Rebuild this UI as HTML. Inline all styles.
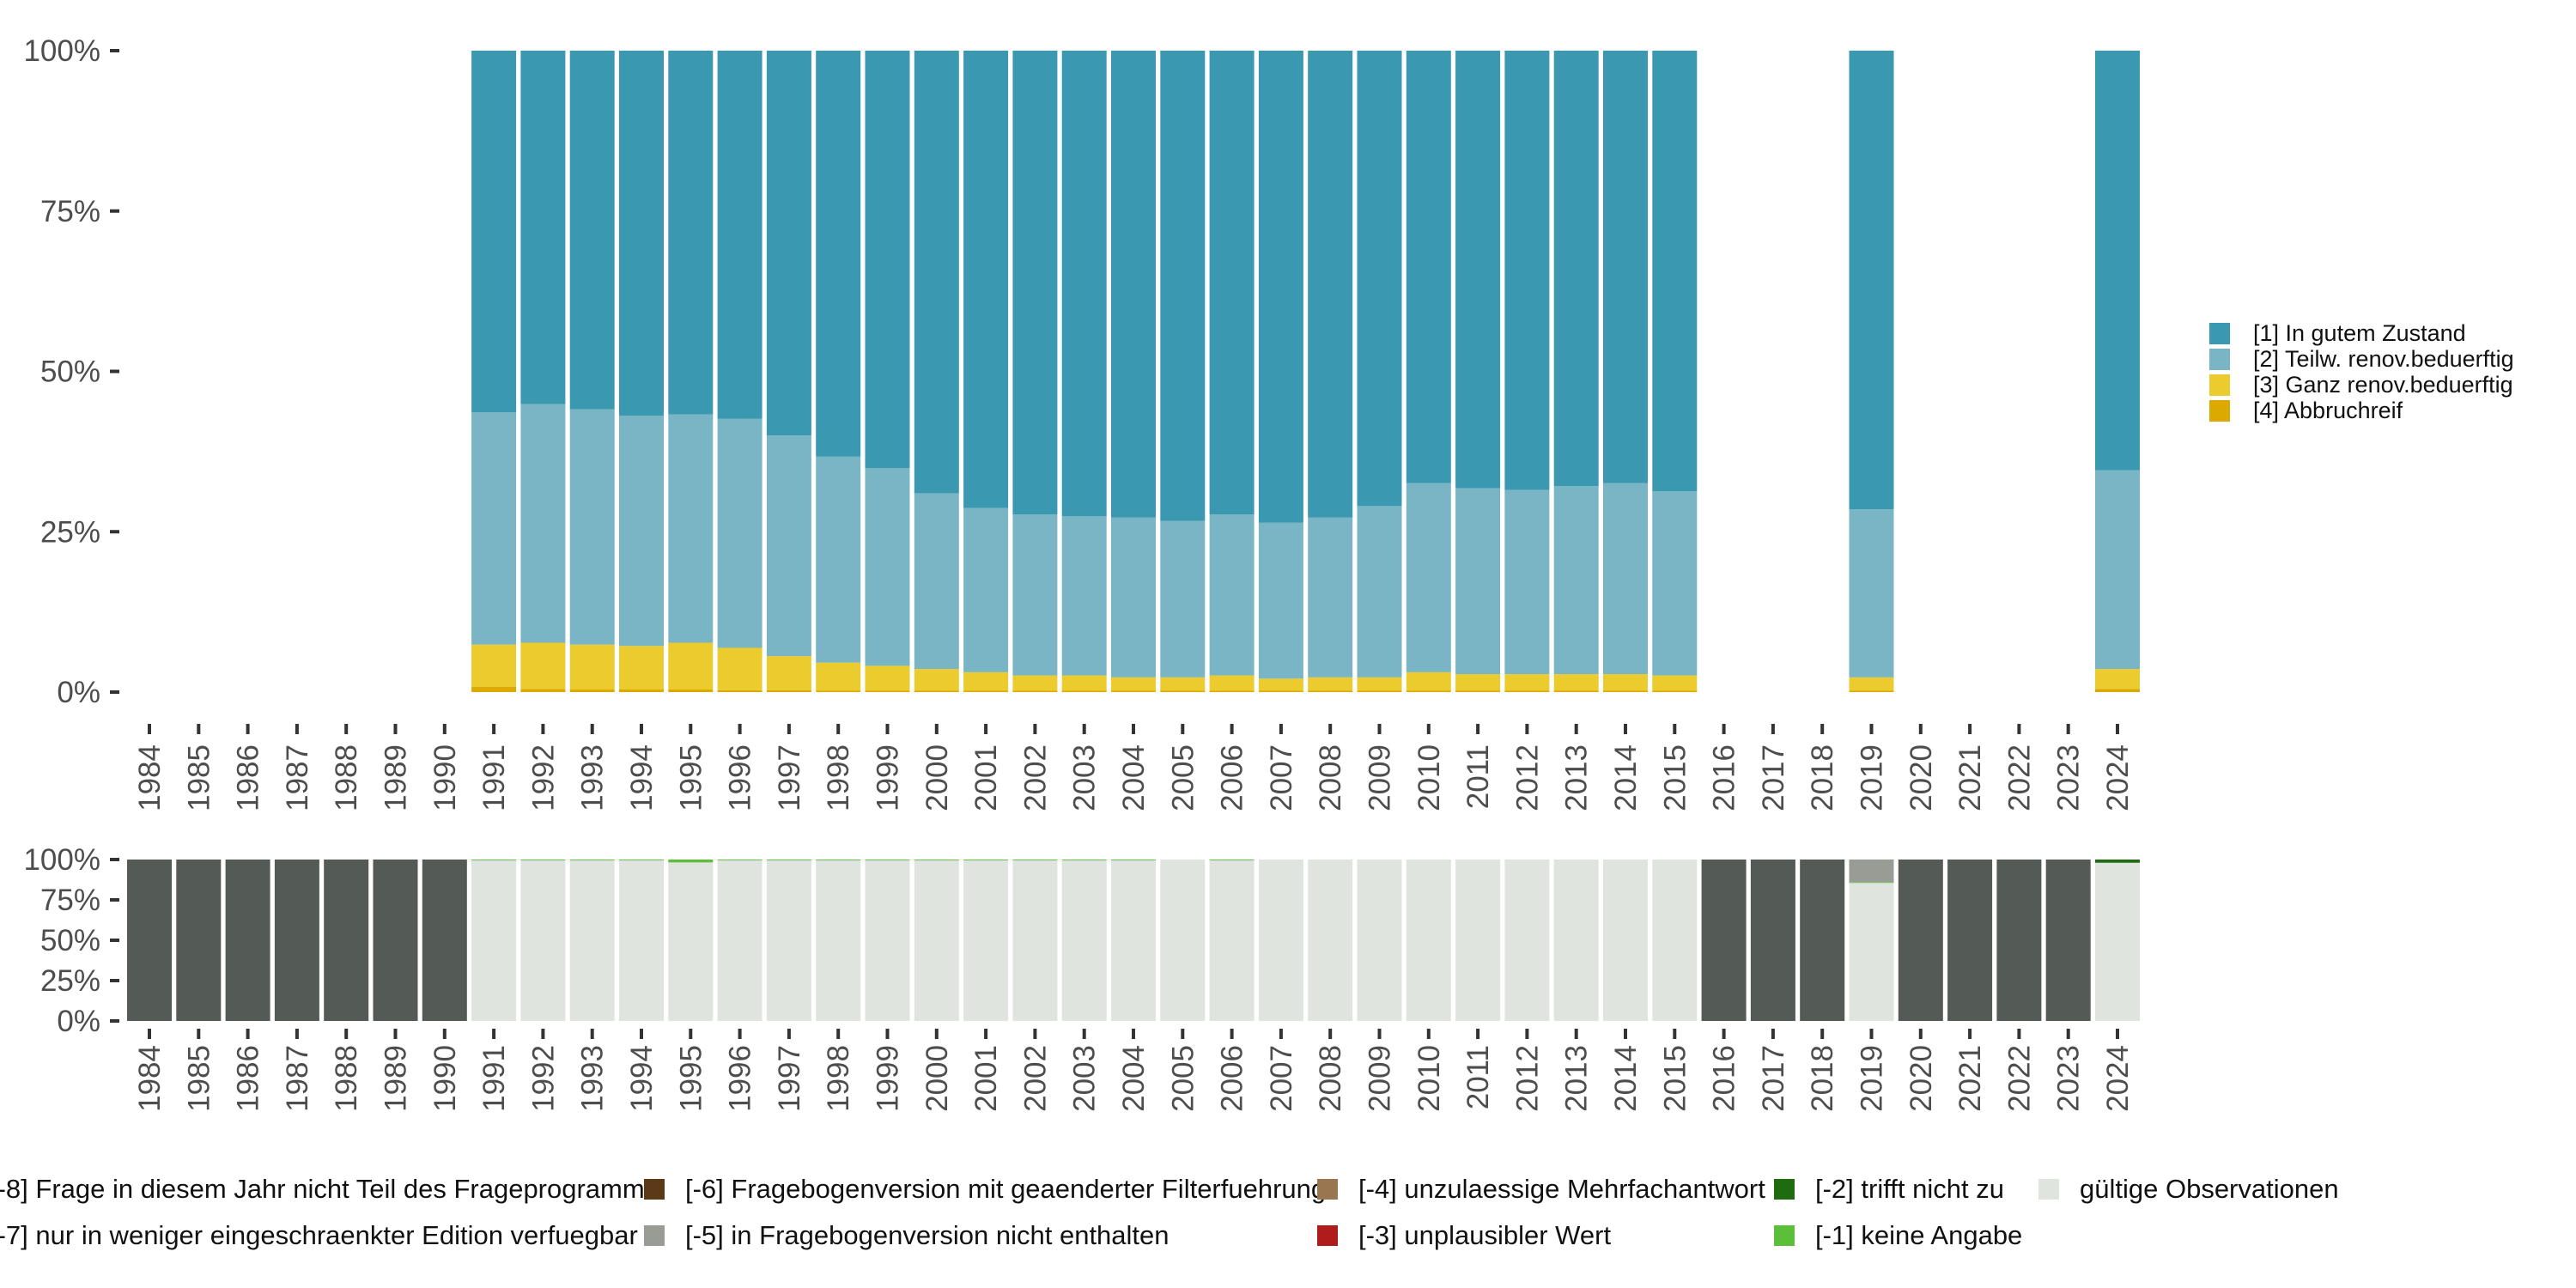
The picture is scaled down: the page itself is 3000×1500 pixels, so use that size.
<!DOCTYPE html>
<html><head><meta charset="utf-8">
<style>
html,body{margin:0;padding:0;background:#fff;}
svg{display:block;font-family:"Liberation Sans","DejaVu Sans",sans-serif;}
</style></head>
<body>
<svg id="chart" width="3000" height="1500" viewBox="0 0 3000 1500" xmlns="http://www.w3.org/2000/svg">
<g id="top"></g>
<g id="bottom"></g>
<g id="legendR"></g>
<g id="legendB"></g>
</svg>
<script>
// ---- data ----
const years = [1984,1985,1986,1987,1988,1989,1990,1991,1992,1993,1994,1995,1996,1997,1998,1999,2000,2001,2002,2003,2004,2005,2006,2007,2008,2009,2010,2011,2012,2013,2014,2015,2016,2017,2018,2019,2020,2021,2022,2023,2024];
const topYears = [1991,1992,1993,1994,1995,1996,1997,1998,1999,2000,2001,2002,2003,2004,2005,2006,2007,2008,2009,2010,2011,2012,2013,2014,2015,2019,2024];
const abbruch = [0.8,0.5,0.4,0.4,0.4,0.3,0.3,0.2,0.2,0.2,0.2,0.2,0.2,0.2,0.2,0.2,0.2,0.2,0.2,0.2,0.2,0.2,0.2,0.2,0.2,0.2,0.5];
const ganz = [6.6,7.2,7.0,6.8,7.3,6.6,5.3,4.4,3.9,3.4,2.9,2.4,2.4,2.1,2.1,2.4,1.9,2.1,2.1,2.9,2.6,2.6,2.6,2.6,2.4,2.1,3.1];
const teilw = [36.2,37.2,36.7,35.9,35.6,35.7,34.4,32.1,30.8,27.4,25.6,25.1,24.8,24.9,24.4,25.1,24.3,24.9,26.7,29.5,29.0,28.7,29.3,29.8,28.7,26.2,31.0];
const gut = [56.4,55.1,55.9,56.9,56.7,57.4,60.0,63.3,65.1,69.0,71.3,72.3,72.6,72.8,73.3,72.3,73.6,72.8,71.0,67.4,68.2,68.5,67.9,67.4,68.7,71.5,65.4];
const topTicks = [0,25,50,75,100];
const topTickLabels = ["0%","25%","50%","75%","100%"];
const topColors = ["#dba900","#ebcb2d","#79b5c4","#3b98b1"];
const topLabels = ["[1] In gutem Zustand","[2] Teilw. renov.beduerftig","[3] Ganz renov.beduerftig","[4] Abbruchreif"];
const m8 = [100,100,100,100,100,100,100,0,0,0,0,0,0,0,0,0,0,0,0,0,0,0,0,0,0,0,0,0,0,0,0,0,100,100,100,0,100,100,100,100,0];
const m5 = [0,0,0,0,0,0,0,0,0,0,0,0,0,0,0,0,0,0,0,0,0,0,0,0,0,0,0,0,0,0,0,0,0,0,0,14,0,0,0,0,0];
const m2 = [0,0,0,0,0,0,0,0,0,0,0,0,0,0,0,0,0,0,0,0,0,0,0,0,0,0,0,0,0,0,0,0,0,0,0,0,0,0,0,0,2];
const m1 = [0,0,0,0,0,0,0,0.5,0.5,0.5,0.5,1.8,0.5,0.5,0.5,0.5,0.5,0.5,0.5,0.5,0.5,0,0.5,0,0,0,0,0,0,0,0,0,0,0,0,0.5,0,0,0,0,0];
const bottomLegend = [
 ["[-8] Frage in diesem Jahr nicht Teil des Frageprogramms","#545a55"],
 ["[-7] nur in weniger eingeschraenkter Edition verfuegbar","#e0e4df"],
 ["[-6] Fragebogenversion mit geaenderter Filterfuehrung","#5c3a18"],
 ["[-5] in Fragebogenversion nicht enthalten","#999b95"],
 ["[-4] unzulaessige Mehrfachantwort","#9a7650"],
 ["[-3] unplausibler Wert","#b01c1c"],
 ["[-2] trifft nicht zu","#1e6b10"],
 ["[-1] keine Angabe","#5bbf3a"],
 ["gültige Observationen","#e0e4df"]
];
// ---- layout ----
const NS="http://www.w3.org/2000/svg";
function mk(tag,attrs,parent){const e=document.createElementNS(NS,tag);for(const k in attrs)e.setAttribute(k,attrs[k]);parent.appendChild(e);return e;}
const x0=174, step=57.3, bw=52;
function xs(year){return x0+(year-1984)*step;}
function yTop(v){return 806-(v/100)*747;}
function yBot(v){return 1189-(v/100)*188;}

function axes(g,ys,tickY,labelTop,fs,pre){
  topTicks.forEach((t,i)=>{
    const y=ys(t);
    const tk=mk('rect',{x:128,y:y-2,width:11,height:4,fill:'#333'},g);
    
    
    const tx=mk('text',{x:117,y:y+12,'text-anchor':'end','font-size':fs,fill:'#4d4d4d'},g);
    tx.textContent=topTickLabels[i];
    
    
  });
  years.forEach(yr=>{
    const x=xs(yr);
    const tk=mk('rect',{x:x-2,y:tickY,width:4,height:12,fill:'#333'},g);
    
    
    const tx=mk('text',{transform:`translate(${x+12},${labelTop}) rotate(-90)`,'text-anchor':'end','font-size':35,fill:'#4d4d4d'},g);
    tx.textContent=yr;
    
    
  });
}
const gt=document.getElementById('top');
axes(gt,yTop,843,867,35,'top');
topYears.forEach((yr,i)=>{
  const vals=[abbruch[i],ganz[i],teilw[i],gut[i]];
  let c=0;
  vals.forEach((v,k)=>{
    const r=mk('rect',{x:xs(yr)-bw/2,y:yTop(c+v),width:bw,height:yTop(c)-yTop(c+v),fill:topColors[k]},gt);
    
    
    c+=v;
  });
});
const gb=document.getElementById('bottom');
axes(gb,yBot,1198,1217,35,'bottom');
years.forEach((yr,i)=>{
  const valid=100-m8[i]-m5[i]-m2[i]-m1[i];
  const segs=[[valid,"#e0e4df"],[m1[i],"#5bbf3a"],[m2[i],"#1e6b10"],[m5[i],"#999b95"],[m8[i],"#545a55"]];
  let c=0;
  segs.forEach(([v,col])=>{
    if(v<=0)return;
    const r=mk('rect',{x:xs(yr)-bw/2,y:yBot(c+v),width:bw,height:yBot(c)-yBot(c+v),fill:col},gb);
    
    
    c+=v;
  });
});
const gl=document.getElementById('legendR');
[3,2,1,0].forEach((k,i)=>{
  const y=376+i*30;
  const r=mk('rect',{x:2573,y:y,width:24,height:25,fill:topColors[k]},gl);
  
  
  const t=mk('text',{x:2624,y:y+21,'font-size':27,fill:'#111'},gl);
  t.textContent=topLabels[i];
  
  
});
const glb=document.getElementById('legendB');
const colX=[-60,750,1534,2066,2374];
bottomLegend.forEach(([lab,col],i)=>{
  const cx=colX[Math.floor(i/2)], y=1373+(i%2)*54;
  const r=mk('rect',{x:cx,y:y,width:24,height:24,fill:col},glb);
  
  
  const t=mk('text',{x:cx+48,y:y+22,'font-size':31,fill:'#111'},glb);
  t.textContent=lab;
  
  
});
</script>
</body></html>
